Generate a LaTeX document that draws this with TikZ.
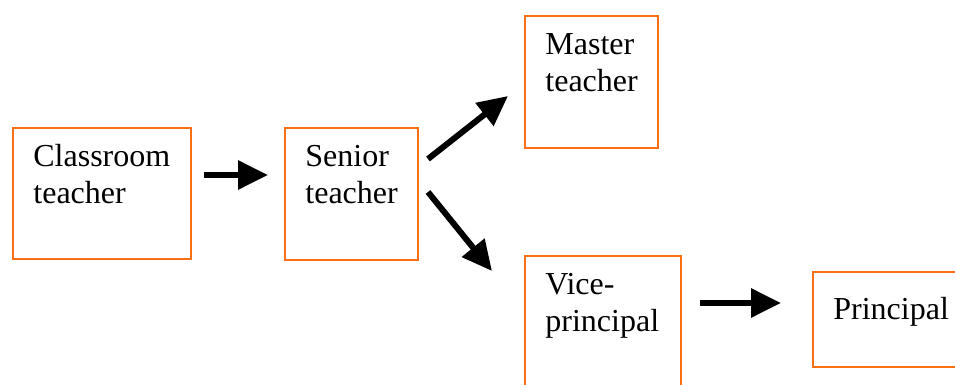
\documentclass[tikz,border=0pt]{standalone}
\usepackage{fontspec}
\setmainfont{Liberation Serif}
\usetikzlibrary{arrows.meta}
\definecolor{boxorange}{RGB}{250,110,20}
\tikzset{
  rank/.style={draw=boxorange, line width=1pt, inner sep=0pt, anchor=north west},
  ranktext/.style={anchor=base west, inner sep=0pt, align=left, font=\fontsize{16}{18.5}\selectfont},
  promote/.style={line width=3pt, -{Triangle[length=15pt,width=14pt]}}
}
\begin{document}
\begin{tikzpicture}[x=0.5pt, y=-0.5pt]
          \clip (0,0) rectangle (955,385);

          % boxes
          \node[rank, minimum width=89pt, minimum height=65.5pt] (classroom) at (12,127) {};
          \node[rank, minimum width=66.5pt, minimum height=66pt] (senior) at (284,127) {};
          \node[rank, minimum width=66.5pt, minimum height=66pt] (master) at (524,15) {};
          \node[rank, minimum width=78pt, minimum height=80pt] (vice) at (524,255) {};
          \node[rank, minimum width=100pt, minimum height=47.5pt] (principal) at (812,271) {};

          % texts (base west = baseline of the last line)
          \node[ranktext] (classroom-t) at ([xshift=10.5pt, yshift=-38.5pt]classroom.north west) {Classroom\\teacher};
          \node[ranktext] (senior-t) at ([xshift=10.5pt, yshift=-38.5pt]senior.north west) {Senior\\teacher};
          \node[ranktext] (master-t) at ([xshift=10.5pt, yshift=-38.5pt]master.north west) {Master\\teacher};
          \node[ranktext] (vice-t) at ([xshift=10.5pt, yshift=-38.5pt]vice.north west) {Vice-\\principal};
          \node[ranktext] (principal-t) at ([xshift=10.5pt, yshift=-24.5pt]principal.north west) {Principal};

          % arrows
          \coordinate (cs-a) at (204,175);
          \coordinate (cs-b) at (268,175);
          \coordinate (sm-a) at (428,159);
          \coordinate (sm-b) at (508,96);
          \coordinate (sv-a) at (428,192);
          \coordinate (sv-b) at (492,271);
          \coordinate (vp-a) at (700,303);
          \coordinate (vp-b) at (781,303);

          \draw[promote] (cs-a) -- (cs-b);
          \draw[promote] (sm-a) -- (sm-b);
          \draw[promote] (sv-a) -- (sv-b);
          \draw[promote] (vp-a) -- (vp-b);

\end{tikzpicture}
\end{document}
